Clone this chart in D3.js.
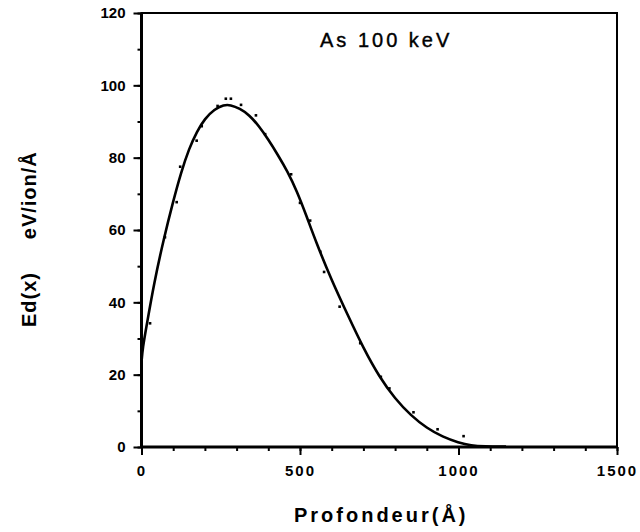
<!DOCTYPE html>
<html>
<head>
<meta charset="utf-8">
<script src="https://cdn.jsdelivr.net/npm/d3@7"></script>
<style>
  body { margin: 0; background: #fff; }
  text { font-family: "Liberation Sans", Arial, sans-serif; fill: #000; }
  .tick-label { font-weight: bold; font-size: 15px; }
</style>
</head>
<body>
<svg class="chart_svg" width="640" height="532"></svg>
<script>
// fitted curve
var curveX = [0, 4, 15, 40, 70, 100, 125, 150, 175, 200, 230, 260, 280, 310, 340, 370, 400, 430, 460, 490, 520, 550, 600, 650, 700, 750, 800, 850, 900, 950, 1000, 1040, 1080, 1150];
var curveY = [23.5, 27.5, 33, 45.5, 57.5, 68, 76, 82.5, 87.3, 90.8, 93.4, 94.6, 94.6, 93.6, 91.8, 88.8, 85, 80.8, 76.3, 70.8, 64, 56.8, 46, 36.6, 27.3, 19.4, 13.3, 8.7, 5.2, 2.8, 1.2, 0.4, 0.15, 0.1];

// simulated points
var dotX = [27, 74, 111, 122, 174, 190, 240, 266, 282, 314, 361, 390, 472, 500, 532, 564, 576, 625, 690, 755, 782, 858, 934, 1016];
var dotY = [34.2, 58, 67.7, 77.5, 84.7, 88.7, 94.3, 96.3, 96.3, 94.6, 91.7, 86.5, 75.4, 67.5, 62.6, 54, 48.4, 38.8, 28.7, 19.4, 16.2, 9.6, 4.9, 3.0];

var xTickLabels = [0, 500, 1000, 1500];
var yTickLabels = [0, 20, 40, 60, 80, 100, 120];

var svg = d3.select(".chart_svg"),
    margin = {top: 13, right: 23, bottom: 85, left: 141.5},
    width = +svg.attr("width") - margin.left - margin.right,
    height = +svg.attr("height") - margin.top - margin.bottom;

var g = svg.append("g")
    .attr("transform", "translate(" + margin.left + "," + margin.top + ")");

var x = d3.scaleLinear().domain([0, 1500]).range([0, width]);
var y = d3.scaleLinear().domain([0, 120]).range([height, 0]);

// minor ticks
g.append("g")
    .attr("transform", "translate(0," + height + ")")
    .call(d3.axisBottom(x).tickValues(d3.range(0, 1501, 100)).tickSize(4).tickFormat(""))
    .call(function(a) { a.select(".domain").remove(); a.selectAll("line").attr("stroke-width", 2); });
g.append("g")
    .call(d3.axisLeft(y).tickValues(d3.range(0, 121, 10)).tickSize(4).tickFormat(""))
    .call(function(a) { a.select(".domain").remove(); a.selectAll("line").attr("stroke-width", 2); });

// major ticks + labels
g.append("g")
    .attr("transform", "translate(0," + height + ")")
    .call(d3.axisBottom(x).tickValues(xTickLabels).tickSize(8).tickPadding(10).tickFormat(d3.format("d")))
    .call(function(a) {
        a.select(".domain").remove();
        a.selectAll("line").attr("stroke-width", 2);
        a.selectAll("text").attr("class", "tick-label").style("letter-spacing", "2px").attr("font-family", null).attr("font-size", null);
    });
g.append("g")
    .call(d3.axisLeft(y).tickValues(yTickLabels).tickSize(8).tickPadding(8).tickFormat(d3.format("d")))
    .call(function(a) {
        a.select(".domain").remove();
        a.selectAll("line").attr("stroke-width", 2);
        a.selectAll("text").attr("class", "tick-label").attr("font-family", null).attr("font-size", null);
    });

// frame
g.append("rect")
    .attr("width", width).attr("height", height)
    .attr("fill", "none").attr("stroke", "#000").attr("stroke-width", 2);
g.append("line").attr("x1", 0).attr("x2", 0).attr("y1", 0).attr("y2", height)
    .attr("stroke", "#000").attr("stroke-width", 3);
g.append("line").attr("x1", 0).attr("x2", width).attr("y1", height).attr("y2", height)
    .attr("stroke", "#000").attr("stroke-width", 3);

// curve
var line = d3.line()
    .x(function(d, i) { return x(curveX[i]); })
    .y(function(d) { return y(d); })
    .curve(d3.curveBasis);

g.append("path")
    .datum(curveY)
    .attr("d", line)
    .attr("fill", "none")
    .attr("stroke", "#000")
    .attr("stroke-width", 2.6)
    .attr("stroke-linejoin", "round");

// dots
g.append("g").selectAll("rect")
    .data(dotY)
    .enter().append("rect")
    .attr("x", function(d, i) { return x(dotX[i]) - 1.3; })
    .attr("y", function(d) { return y(d) - 1.3; })
    .attr("width", 2.6)
    .attr("height", 2.6)
    .attr("fill", "#000");

// title in plot
svg.append("text")
    .attr("x", 320).attr("y", 47)
    .style("font-size", "20px")
    .style("letter-spacing", "3px")
    .style("stroke", "#000").style("stroke-width", 0.4)
    .text("As 100 keV");

// axis titles
svg.append("text")
    .attr("x", margin.left + width / 2 + 2).attr("y", 522)
    .attr("text-anchor", "middle")
    .style("font-size", "20px").style("font-weight", "bold").style("letter-spacing", "3px")
    .text("Profondeur(Å)");

svg.append("text")
    .attr("transform", "translate(36,327) rotate(-90)")
    .style("font-size", "20px").style("font-weight", "bold").style("letter-spacing", "1px")
    .style("white-space", "pre")
    .text("Ed(x)     eV/ion/Å");
</script>
</body>
</html>
